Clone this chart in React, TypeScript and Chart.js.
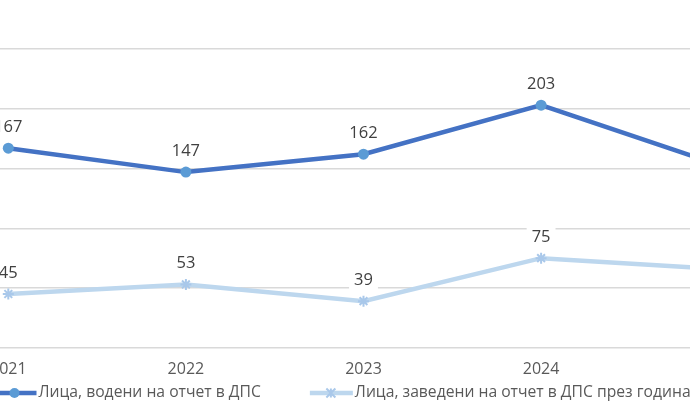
import { Chart, registerables } from 'chart.js';
import React, { useEffect, useRef } from 'react';

Chart.register(...registerables);

const years = ['2021', '2022', '2023', '2024', '2025'];
const supervised = [167, 147, 162, 203, 153];
const registered = [45, 53, 39, 75, 66];
const seriesNames = [
    'Лица, водени на отчет в ДПС',
    'Лица, заведени на отчет в ДПС през годината',
];

const FONT = '"Open Sans", "Noto Sans", sans-serif';
const DARK = '#4472C4';
const DARK_MARK = '#5B9BD5';
const LIGHT = '#BDD7EE';
const LIGHT_MARK = '#A9C8EA';

const drawMarker = (ctx: CanvasRenderingContext2D, style: string, x: number, y: number, r: number, color: string) => {
    ctx.save();
    if (style === 'circle') {
        ctx.fillStyle = color;
        ctx.beginPath();
        ctx.arc(x, y, r, 0, Math.PI * 2);
        ctx.fill();
    } else {
        ctx.strokeStyle = color;
        ctx.lineWidth = 2;
        ctx.beginPath();
        ctx.moveTo(x - r, y - r);
        ctx.lineTo(x + r, y + r);
        ctx.moveTo(x - r, y + r);
        ctx.lineTo(x + r, y - r);
        ctx.moveTo(x, y - r);
        ctx.lineTo(x, y + r);
        ctx.stroke();
    }
    ctx.restore();
};

const valueLabels = {
    id: 'valueLabels',
    afterDatasetsDraw(chart: any) {
        const ctx = chart.ctx;
        ctx.save();
        ctx.font = `16.5px ${FONT}`;
        ctx.textAlign = 'center';
        ctx.textBaseline = 'middle';
        chart.data.datasets.forEach((ds: any, i: number) => {
            chart.getDatasetMeta(i).data.forEach((pt: any, j: number) => {
                const text = String(ds.data[j]);
                const w = ctx.measureText(text).width;
                const y = pt.y - 21;
                ctx.fillStyle = '#ffffff';
                ctx.fillRect(pt.x - w / 2 - 5, y - 10, w + 10, 20);
                ctx.fillStyle = '#404040';
                ctx.fillText(text, pt.x, y);
            });
        });
        ctx.restore();
    },
};

const bottomLegend = {
    id: 'bottomLegend',
    afterDraw(chart: any) {
        const ctx = chart.ctx;
        const y = 393;
        const styles = ['circle', 'star'];
        const lines = [DARK, LIGHT];
        const marks = [DARK_MARK, LIGHT_MARK];
        let x = chart.chartArea.left + 74;
        ctx.save();
        ctx.font = `15.7px ${FONT}`;
        ctx.textBaseline = 'middle';
        seriesNames.forEach((name, i) => {
            ctx.strokeStyle = lines[i];
            ctx.lineWidth = 4.5;
            ctx.beginPath();
            ctx.moveTo(x, y);
            ctx.lineTo(x + 43, y);
            ctx.stroke();
            drawMarker(ctx, styles[i], x + 21, y, i === 0 ? 5 : 4.5, marks[i]);
            ctx.fillStyle = '#595959';
            ctx.fillText(name, x + 45, y);
            x += 45 + ctx.measureText(name).width + 49;
        });
        ctx.restore();
    },
};

const App: React.FC = () => {
    const canvasRef = useRef<HTMLCanvasElement>(null);

    useEffect(() => {
        if (!canvasRef.current) return;
        const ctx = canvasRef.current.getContext('2d');
        if (!ctx) return;
        const chart = new Chart(ctx, {
            type: 'line',
            data: {
                labels: years,
                datasets: [
                    {
                        label: seriesNames[0],
                        data: supervised,
                        borderColor: DARK,
                        borderWidth: 4.5,
                        pointStyle: 'circle',
                        pointRadius: 5.5,
                        pointBackgroundColor: DARK_MARK,
                        pointBorderColor: DARK_MARK,
                        pointBorderWidth: 0,
                        tension: 0,
                    },
                    {
                        label: seriesNames[1],
                        data: registered,
                        borderColor: LIGHT,
                        borderWidth: 4.5,
                        pointStyle: 'star',
                        pointRadius: 5.5,
                        pointBackgroundColor: LIGHT_MARK,
                        pointBorderColor: LIGHT_MARK,
                        pointBorderWidth: 2,
                        tension: 0,
                    },
                ],
            },
            options: {
                responsive: false,
                animation: false,
                layout: { padding: { top: 49, bottom: 29, left: 0, right: 0 } },
                plugins: {
                    legend: { display: false },
                    tooltip: { enabled: false },
                },
                scales: {
                    x: {
                        offset: true,
                        grid: { display: false, drawTicks: false },
                        border: { display: false },
                        ticks: {
                            padding: 12,
                            color: '#595959',
                            font: { family: FONT, size: 16 },
                        },
                    },
                    y: {
                        min: 0,
                        max: 250,
                        ticks: { stepSize: 50, display: false },
                        grid: { color: '#D9D9D9', lineWidth: 1.5, drawTicks: false },
                        border: { display: false },
                    },
                },
            },
            plugins: [valueLabels, bottomLegend],
        });
        return () => {
            chart.destroy();
        };
    }, []);

    return (
        <div style={{ position: 'fixed', left: 0, top: 0, width: 690, height: 420, overflow: 'hidden', background: '#fff' }}>
            <canvas
                ref={canvasRef}
                width={903}
                height={420}
                style={{ position: 'absolute', left: -88, top: 0, width: 903, height: 420 }}
            />
        </div>
    );
};

export default App;
